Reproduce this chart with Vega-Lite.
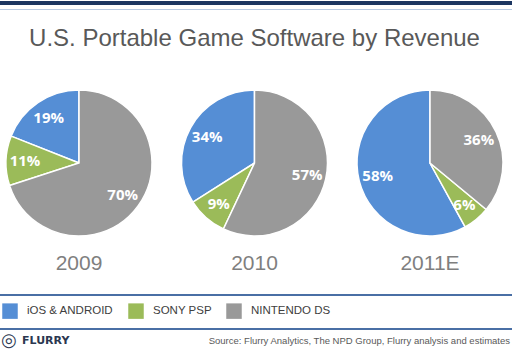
{
  "$schema": "https://vega.github.io/schema/vega-lite/v6.json",
  "padding": 0,
  "spacing": 0,
  "background": "white",
  "config": {"view": {"stroke": null}, "font": "Liberation Sans"},
  "datasets": {
    "pies": [
      {"year": "2009", "platform": "iOS & ANDROID", "pct": 0.19},
      {"year": "2009", "platform": "SONY PSP", "pct": 0.11},
      {"year": "2009", "platform": "NINTENDO DS", "pct": 0.70},
      {"year": "2010", "platform": "iOS & ANDROID", "pct": 0.34},
      {"year": "2010", "platform": "SONY PSP", "pct": 0.09},
      {"year": "2010", "platform": "NINTENDO DS", "pct": 0.57},
      {"year": "2011E", "platform": "iOS & ANDROID", "pct": 0.58},
      {"year": "2011E", "platform": "SONY PSP", "pct": 0.06},
      {"year": "2011E", "platform": "NINTENDO DS", "pct": 0.36}
    ],
    "footer": [
      {"part": "icon", "side": "left", "label": "◎"},
      {"part": "logo", "side": "left", "label": "FLURRY"},
      {"part": "source", "side": "right", "label": "Source: Flurry Analytics, The NPD Group, Flurry analysis  and estimates"}
    ],
    "blank": [{}]
  },
  "resolve": {"legend": {"color": "independent"}},
  "vconcat": [
    {
      "data": {"name": "blank"}, "width": 512, "height": 4,
      "view": {"fill": "#1c3661", "stroke": null},
      "mark": {"type": "point", "opacity": 0}, "encoding": {}
    },
    {
      "data": {"name": "blank"}, "width": 512, "height": 1,
      "view": {"fill": "#b9cbe3", "stroke": null},
      "mark": {"type": "point", "opacity": 0}, "encoding": {}
    },
    {
      "data": {"name": "blank"}, "width": 512, "height": 14,
      "mark": {"type": "point", "opacity": 0}, "encoding": {}
    },
    {
      "data": {"name": "pies"},
      "title": {"text": "U.S. Portable Game Software by Revenue", "font": "Liberation Sans", "fontSize": 24, "fontWeight": "normal", "color": "#595959", "anchor": "middle", "offset": 36},
      "facet": {"column": {"field": "year", "type": "ordinal", "sort": ["2009", "2010", "2011E"], "title": null,
        "header": {"labelOrient": "bottom", "labelFontSize": 21, "labelColor": "#7f7f7f", "labelFont": "Liberation Sans", "labelPadding": 14}}},
      "spacing": 17.5,
      "spec": {
        "width": 158, "height": 150,
        "view": {"stroke": null},
        "encoding": {
          "theta": {"field": "pct", "type": "quantitative", "stack": true},
          "order": {"field": "platform", "sort": "ascending"},
          "color": {"field": "platform", "type": "nominal",
            "scale": {"domain": ["iOS & ANDROID", "SONY PSP", "NINTENDO DS"], "range": ["#558ed5", "#9bbb59", "#999999"]},
            "legend": null}
        },
        "layer": [
          {"mark": {"type": "arc", "outerRadius": 73, "stroke": "white", "strokeWidth": 1.5}},
          {"mark": {"type": "text", "radius": 54, "fontSize": 15, "fontWeight": "bold", "fill": "white", "font": "Open Sans"},
           "encoding": {"text": {"field": "pct", "type": "quantitative", "format": ".0%"}, "color": {"value": "white"}}}
        ]
      }
    },
    {
      "data": {"name": "blank"}, "width": 512, "height": 18,
      "mark": {"type": "point", "opacity": 0}, "encoding": {}
    },
    {
      "data": {"name": "blank"}, "width": 512, "height": 2,
      "view": {"fill": "#4a6fa5", "stroke": null},
      "mark": {"type": "point", "opacity": 0}, "encoding": {}
    },
    {
      "data": {"name": "pies"}, "width": 512, "height": 28,
      "mark": {"type": "square", "opacity": 0},
      "encoding": {
        "color": {"field": "platform", "type": "nominal",
          "scale": {"domain": ["iOS & ANDROID", "SONY PSP", "NINTENDO DS"], "range": ["#558ed5", "#9bbb59", "#999999"]},
          "legend": {"orient": "none", "legendX": 2, "legendY": 5, "direction": "horizontal", "title": null, "padding": 0,
            "symbolType": "square", "symbolSize": 240, "symbolOpacity": 1, "symbolStrokeWidth": 0,
            "labelFont": "Liberation Sans", "labelFontSize": 11.5, "labelColor": "#404040",
            "labelOffset": 9, "columnPadding": 14}}
      }
    },
    {
      "data": {"name": "blank"}, "width": 512, "height": 2,
      "view": {"fill": "#4a6fa5", "stroke": null},
      "mark": {"type": "point", "opacity": 0}, "encoding": {}
    },
    {
      "data": {"name": "footer"}, "width": 512, "height": 24,
      "encoding": {
        "x": {"field": "side", "type": "nominal", "scale": {"type": "point", "domain": ["left", "right"], "padding": 0}, "axis": null},
        "text": {"field": "label"}
      },
      "layer": [
        {"transform": [{"filter": "datum.part === 'icon'"}], "mark": {"type": "text", "align": "left", "dx": 1, "dy": -4, "font": "DejaVu Sans", "fontSize": 18, "fontWeight": "bold", "color": "#2b3750"}},
        {"transform": [{"filter": "datum.part === 'logo'"}], "mark": {"type": "text", "align": "left", "dx": 22, "dy": -4, "font": "DejaVu Sans", "fontSize": 11, "fontWeight": "bold", "color": "#2b3750"}},
        {"transform": [{"filter": "datum.part === 'source'"}], "mark": {"type": "text", "align": "right", "dx": -2, "dy": -4, "font": "Liberation Sans", "fontSize": 9.5, "color": "#595959"}}
      ]
    },
    {
      "data": {"name": "blank"}, "width": 512, "height": 1,
      "view": {"fill": "#b9cbe3", "stroke": null},
      "mark": {"type": "point", "opacity": 0}, "encoding": {}
    },
    {
      "data": {"name": "blank"}, "width": 512, "height": 8,
      "view": {"fill": "#1c3661", "stroke": null},
      "mark": {"type": "point", "opacity": 0}, "encoding": {}
    }
  ]
}
